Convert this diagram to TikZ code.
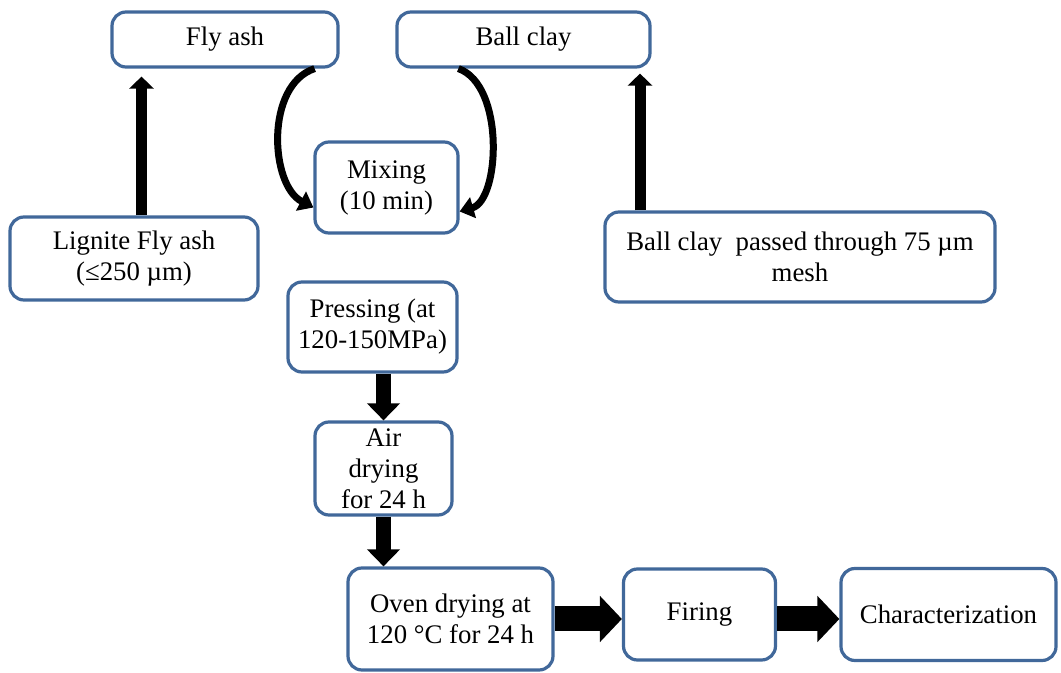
\documentclass[tikz,border=0pt]{standalone}
\usepackage{fontspec}
\setmainfont{Liberation Serif}
\usetikzlibrary{arrows.meta}
\definecolor{boxblue}{RGB}{65,104,154}

\begin{document}
\begin{tikzpicture}[x=0.5pt,y=-0.5pt,node distance=124.5pt,
                    font=\fontsize{13.4}{15.5}\selectfont]
  \tikzstyle{stage}=[draw=boxblue,line width=1.6pt,rounded corners=7pt,fill=white,align=center,inner sep=1pt]
  \tikzstyle{thin up}=[line width=5.5pt,-{Triangle[width=12pt,length=6pt]}]
  \tikzstyle{curve in}=[line width=3.5pt,-{Triangle[width=10.5pt,length=7pt]}]
  \tikzstyle{block down}=[line width=7.5pt,-{Triangle[width=16pt,length=8.5pt]}]
  \tikzstyle{block right}=[line width=12.5pt,-{Triangle[width=22.5pt,length=11pt]}]

  \useasboundingbox (0,0) rectangle (1061,673);

  \node[stage,minimum width=113pt,minimum height=27.5pt]   (flyash)  at (225,39.5)   {Fly ash};
  \node[stage,minimum width=126.5pt,minimum height=27.5pt] (ballclay) at (523.5,39.5) {Ball clay};
  \node[stage,minimum width=71.5pt,minimum height=45.5pt]  (mix)     at (386.5,187.5) {Mixing\\(10 min)};
  \node[stage,minimum width=124pt,minimum height=41.5pt]   (lignite) at (134,258.5)   {Lignite Fly ash\\(≤250 µm)};
  \node[stage,minimum width=195pt,minimum height=45pt]     (sieve)   at (800,257)     {Ball clay~ passed through 75 µm\\mesh};
  \node[stage,minimum width=84.5pt,minimum height=45pt]    (press)   at (372.5,327)   {Pressing (at\\120-150MPa)};
  \node[stage,minimum width=68.5pt,minimum height=46.5pt]  (airdry)  at (383.5,468.5) {Air\\drying\\for 24 h};
  \node[stage,minimum width=102.5pt,minimum height=51pt]   (oven)    at (450.5,619)   {Oven drying at\\120 °C for 24 h};
  \node[stage,minimum width=76pt,minimum height=45.5pt]    (firing)  [right of=oven,yshift=2.25pt] {Firing};
  \node[stage,minimum width=107.5pt,minimum height=46pt]   (charac)  [right of=firing] {Characterization};

  % raw materials
  \path (lignite.north -| 141.5,0) edge[thin up,shorten >=4pt] (flyash.south -| 141.5,0)
        (sieve.north -| 640,0)     edge[thin up,shorten >=2.5pt] (ballclay.south -| 640,0);

  % into the mixer
  \draw[curve in] ([xshift=-12.5pt]flyash.south east) .. controls (265,85) and (270,185) .. ([yshift=-10pt]mix.west);
  \draw[curve in] ([xshift=31.5pt]ballclay.south west) .. controls (505,85) and (500,200) .. ([yshift=-12pt]mix.east);

  % processing chain
  \path (press.south -| airdry.north) edge[block down] (airdry.north)
        (airdry.south)                edge[block down] (airdry.south |- oven.north)
        (oven.east)                   edge[block right] (oven.east -| firing.west)
        (firing.east |- oven.east)    edge[block right] (charac.west |- oven.east);
\end{tikzpicture}
\end{document}
